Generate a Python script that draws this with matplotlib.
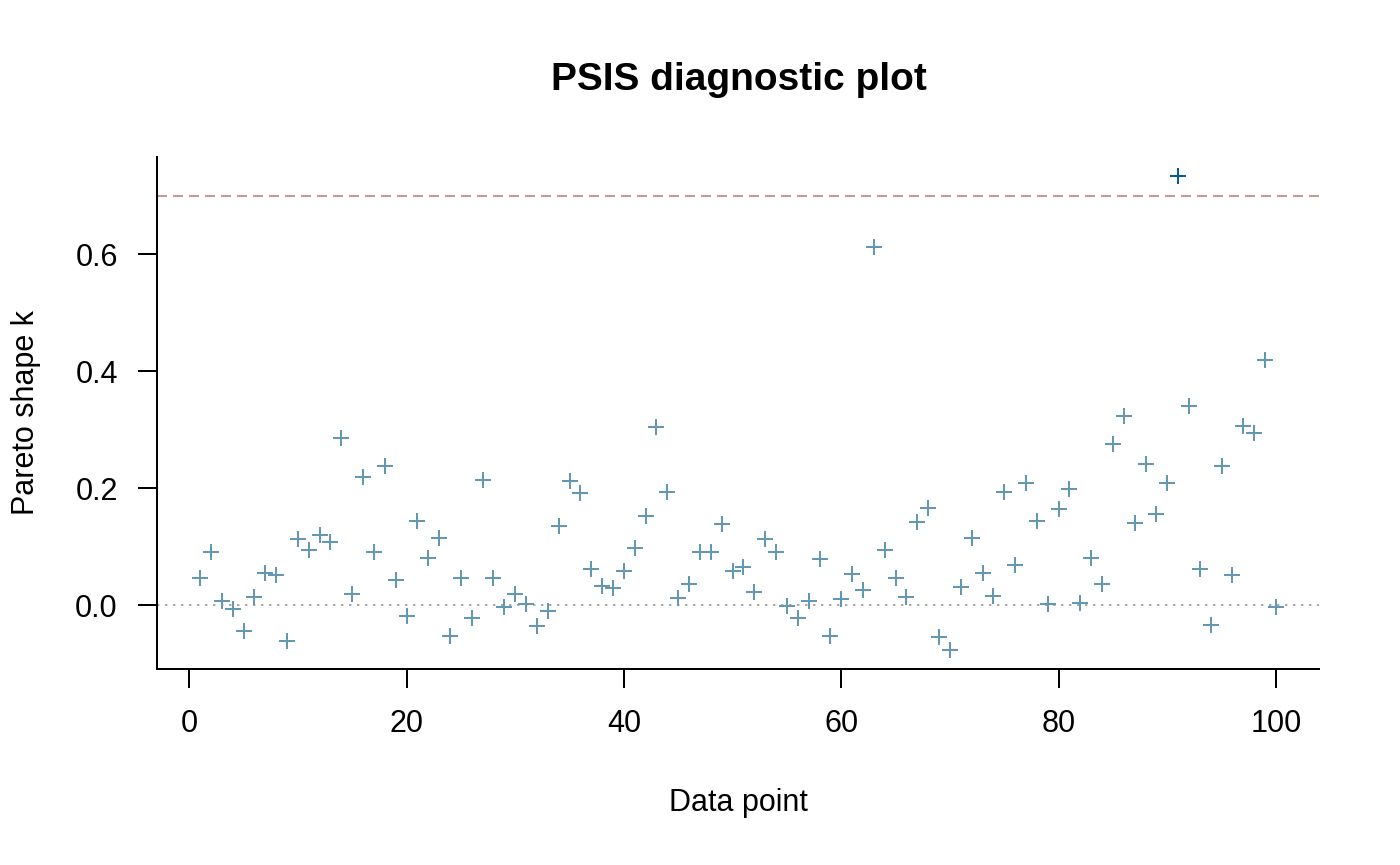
import numpy as np
import matplotlib
matplotlib.use("Agg")
import matplotlib.pyplot as plt

plt.rcParams['font.family'] = ['Liberation Sans', 'DejaVu Sans']

# Pareto k estimates, one per observation
data_point = np.arange(1, 101)
pareto_k = [
    0.046, 0.090, 0.007, -0.006, -0.045, 0.013, 0.055, 0.051, -0.062, 0.113,
    0.095, 0.119, 0.108, 0.285, 0.019, 0.219, 0.090, 0.238, 0.042, -0.018,
    0.143, 0.081, 0.115, -0.053, 0.046, -0.023, 0.214, 0.046, -0.003, 0.019,
    0.001, -0.035, -0.010, 0.136, 0.212, 0.192, 0.061, 0.032, 0.029, 0.058,
    0.097, 0.152, 0.305, 0.194, 0.012, 0.036, 0.091, 0.091, 0.138, 0.059,
    0.065, 0.023, 0.113, 0.091, -0.002, -0.023, 0.007, 0.078, -0.053, 0.011,
    0.053, 0.026, 0.613, 0.095, 0.047, 0.013, 0.142, 0.166, -0.054, -0.077,
    0.031, 0.115, 0.054, 0.016, 0.193, 0.069, 0.209, 0.143, 0.001, 0.165,
    0.198, 0.003, 0.080, 0.036, 0.275, 0.324, 0.140, 0.241, 0.155, 0.208,
    0.734, 0.340, 0.061, -0.034, 0.237, 0.051, 0.307, 0.294, 0.419, -0.003,
]
k_threshold = 0.7
x_ticks = [0, 20, 40, 60, 80, 100]
y_ticks = [0.0, 0.2, 0.4, 0.6]
y_tick_labels = ["0.0", "0.2", "0.4", "0.6"]

k = np.array(pareto_k)
bad = k > k_threshold

fig = plt.figure(figsize=(14, 8.65), dpi=100)
ax = fig.add_axes([157 / 1400, 1 - 669 / 865, (1319 - 157) / 1400, (669 - 157) / 865])

ax.axhline(0, color="darkgray", lw=1.44, dashes=(1.2, 2.8))
ax.axhline(k_threshold, color="#C79999", lw=1.44, dashes=(5, 3))

ax.plot(data_point[~bad], k[~bad], linestyle="none", marker="+", ms=11, mew=1.45, color="#6497b1")
ax.plot(data_point[bad], k[bad], linestyle="none", marker="+", ms=11, mew=1.45, color="#005b96")

# R-style 4% padding around the data
ax.set_xlim(-2.96, 103.96)
ax.set_ylim(-0.1094, 0.7664)
ax.set_xticks(x_ticks)
ax.set_yticks(y_ticks)
ax.set_yticklabels(y_tick_labels)

for s in ["top", "right"]:
    ax.spines[s].set_visible(False)
for s in ["left", "bottom"]:
    ax.spines[s].set_linewidth(1.44)
ax.tick_params(length=13.7, width=1.44, labelsize=22, direction="out")
ax.tick_params(axis="x", pad=15)
ax.tick_params(axis="y", pad=14.5)

ax.set_xlabel("Data point", fontsize=22, va="center")
ax.set_ylabel("Pareto shape k", fontsize=22, va="center")
ax.xaxis.set_label_coords(0.5, (669 - 803) / (669 - 157))
ax.yaxis.set_label_coords((26 - 157) / (1319 - 157), 0.5)
fig.text(0.5275, 1 - 80 / 865, "PSIS diagnostic plot", fontsize=28, fontweight="bold",
         ha="center", va="center")

fig.savefig("out.png", dpi=100)
